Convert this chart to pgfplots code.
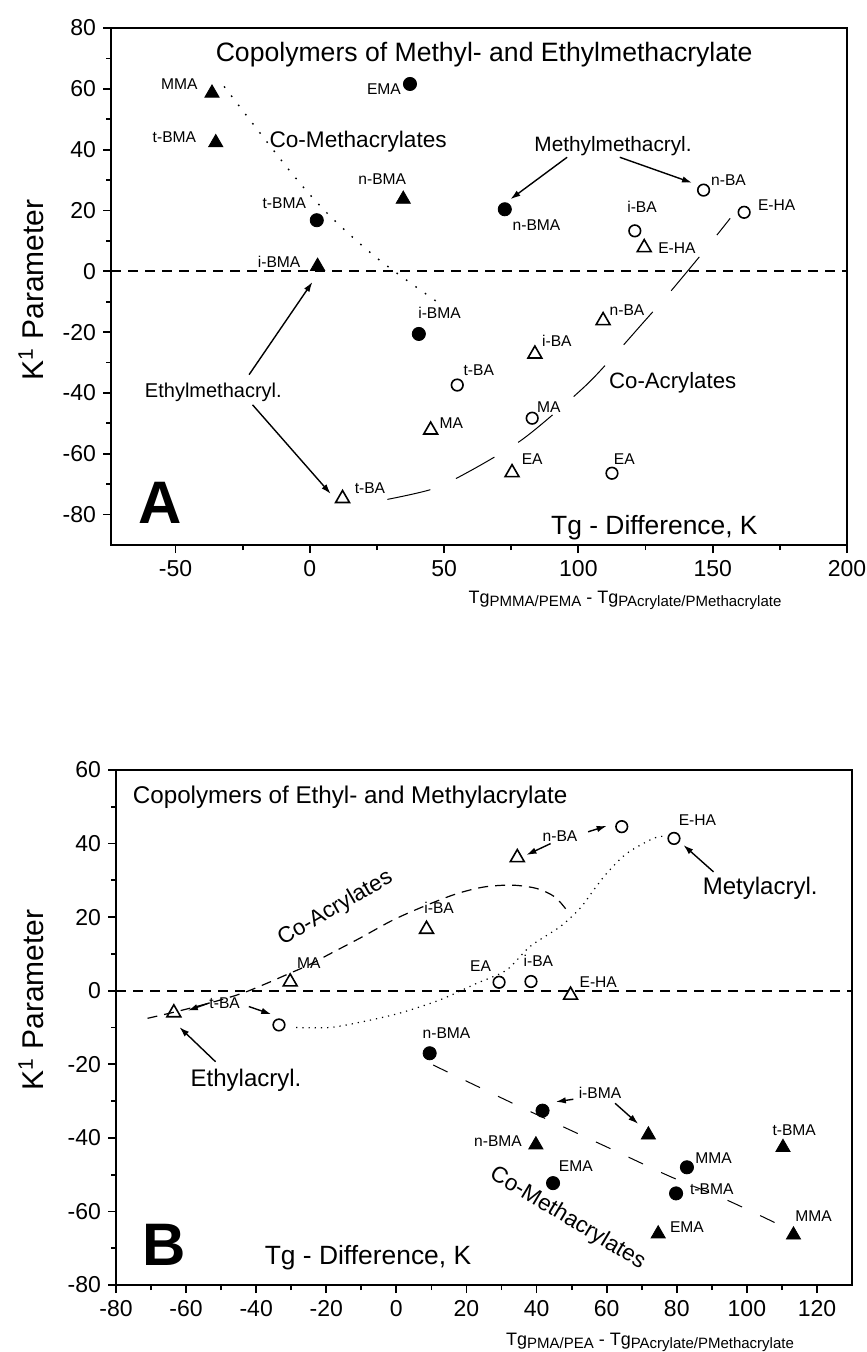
\documentclass[border=0pt]{standalone}
\usepackage{pgfplots}
\pgfplotsset{compat=1.18}
\usepackage{fontspec}
\setmainfont{Liberation Sans}
\usetikzlibrary{arrows.meta}
\newcommand{\fs}[1]{\fontsize{#1}{#1}\selectfont}
\newcommand{\sub}[1]{\raisebox{-1.6pt}{\fs{7.5}#1}}

\pgfplotsset{
  base/.style={
    scale only axis, clip=false,
    axis line style={line width=1.1pt},
    tick align=outside, tick pos=left,
    major tick length=4pt, minor tick length=2.5pt,
    tick style={black, line width=0.9pt},
    minor tick num=1,
    tick label style={font=\fs{11.5}},
    /pgf/number format/assume math mode=true,
    /pgf/number format/1000 sep={},
  },
  zero/.style={black, line width=0.9pt, dash pattern=on 5pt off 3.5pt},
  ftri/.style={only marks, mark=triangle*, mark size=4.1pt, black},
  otri/.style={only marks, mark=triangle, mark size=4pt, black, mark options={line width=0.8pt}},
  fcirc/.style={only marks, mark=*, mark size=3.3pt, black},
  ocirc/.style={only marks, mark=o, mark size=2.9pt, black, mark options={line width=0.8pt}},
}
\tikzset{
  lab/.style={font=\fs{7.8}},
  arr/.style={-{Latex[length=5pt,width=3.2pt]}, line width=0.7pt},
}

\begin{document}
\begin{tikzpicture}
\useasboundingbox (0pt,0pt) rectangle (433pt,-676pt);

% ---------------- Panel A ----------------
\begin{axis}[base, at={(55.5pt,-272.5pt)}, anchor=south west,
  width=368pt, height=258.5pt,
  xmin=-74, xmax=200, ymin=-90, ymax=80,
  xtick={-50,0,...,200}, ytick={-80,-60,...,80}]

\addplot[zero] coordinates {(-74,0) (200,0)};

% Co-Methacrylates dotted guide
\addplot[black, line width=0.7pt, dash pattern=on 0.8pt off 5pt, smooth]
  coordinates {(-31.9,60.8) (-7.7,33.3) (6.6,19) (25.2,4.2) (47.5,-10.1)};
% Co-Acrylates guide
\addplot[black, line width=0.5pt, dash pattern=on 22pt off 14pt, smooth]
  coordinates {(28.9,-75) (46,-71.5) (60,-65.5) (78,-56) (92,-46) (104,-36.5)
               (114,-27) (124,-17) (133,-8) (146,5.8) (156.5,17.4)};

\addplot[ftri] coordinates {(-36.4,58.6) (-35,42.3) (34.8,23.7) (2.9,1.65)};
\addplot[fcirc] coordinates {(37.3,61.6) (2.6,16.8) (40.6,-20.6) (72.6,20.4)};
\addplot[otri] coordinates {(124.5,7.8) (109.2,-16.2) (83.8,-27.2) (45,-52.2) (75.3,-66.2) (12.2,-74.7)};
\addplot[ocirc] coordinates {(146.6,26.7) (161.7,19.4) (121,13.3) (54.9,-37.4) (82.8,-48.3) (112.5,-66.4)};

\node[lab] at (axis cs:-48.6,61.4) {MMA};
\node[lab] at (axis cs:-50.4,44.1) {t-BMA};
\node[lab] at (axis cs:27.6,60) {EMA};
\node[lab] at (axis cs:27,30.3) {n-BMA};
\node[lab] at (axis cs:-9.5,22.5) {t-BMA};
\node[lab] at (axis cs:-11.4,3.1) {i-BMA};
\node[lab] at (axis cs:48.3,-13.8) {i-BMA};
\node[lab] at (axis cs:84.4,15.2) {n-BMA};
\node[lab] at (axis cs:155.9,30) {n-BA};
\node[lab] at (axis cs:173.8,21.6) {E-HA};
\node[lab] at (axis cs:123.7,21.2) {i-BA};
\node[lab] at (axis cs:136.7,7.5) {E-HA};
\node[lab] at (axis cs:118.1,-12.9) {n-BA};
\node[lab] at (axis cs:92,-23) {i-BA};
\node[lab] at (axis cs:62.9,-32.4) {t-BA};
\node[lab] at (axis cs:52.7,-50) {MA};
\node[lab] at (axis cs:89,-44.6) {MA};
\node[lab] at (axis cs:82.8,-61.8) {EA};
\node[lab] at (axis cs:117.1,-61.8) {EA};
\node[lab] at (axis cs:22.4,-71.4) {t-BA};

\node[font=\fs{13.3}] at (axis cs:64.9,71.3) {Copolymers of Methyl- and Ethylmethacrylate};
\node[font=\fs{11.3}] at (axis cs:18,42.7) {Co-Methacrylates};
\node[font=\fs{10.4}] at (axis cs:112.9,41.3) {Methylmethacryl.};
\node[font=\fs{10}] at (axis cs:-35.9,-39.8) {Ethylmethacryl.};
\node[font=\fs{11.1}] at (axis cs:135.1,-36.5) {Co-Acrylates};
\node[font=\fs{13.2}] at (axis cs:128.3,-84.4) {Tg - Difference, K};
\node[font=\fs{30}\bfseries] at (axis cs:-55.6,-76.1) {A};

\draw[arr] (axis cs:95.8,37.5) -- (axis cs:74.7,23.7);
\draw[arr] (axis cs:115.4,37.5) -- (axis cs:142.3,29.1);
\draw[arr] (axis cs:-22.6,-34) -- (axis cs:1,-3.5);
\draw[arr] (axis cs:-21.3,-43.9) -- (axis cs:7.8,-73.2);
\end{axis}

\node[rotate=90, font=\fs{15}] at (15.5pt,-145pt) {K\textsuperscript{1} Parameter};
\node[font=\fs{9}] at (312.5pt,-300pt) {Tg\sub{PMMA/PEMA} - Tg\sub{PAcrylate/PMethacrylate}};

% ---------------- Panel B ----------------
\begin{axis}[base, at={(58pt,-642.5pt)}, anchor=south west,
  width=368pt, height=257.5pt,
  xmin=-80, xmax=130, ymin=-80, ymax=60,
  xtick={-80,-60,...,120}, ytick={-80,-60,...,60}]

\addplot[zero] coordinates {(-80,0) (130,0)};

% Co-Acrylates dashed guide
\addplot[black, line width=0.6pt, dash pattern=on 5pt off 3.5pt, smooth]
  coordinates {(-71,-7.5) (-62,-5.5) (-52,-3) (-44,-0.7) (-37,2) (-31,4.5) (-25,7)
               (-18.6,10.2) (-10,14.5) (-1,19.2) (8,23) (17,26.3) (25,28.2) (33,28.7)
               (40,27.8) (45.2,25.5) (48.6,21.9)};
% dotted guide
\addplot[black, line width=0.6pt, dash pattern=on 0.6pt off 2.5pt, smooth]
  coordinates {(-28.6,-10) (-19,-10) (-10,-8.5) (0.9,-6.1) (12.4,-2.5) (22.9,2)
               (31.4,5.6) (38.1,12) (46.7,17.4) (52.4,22.4) (56,27) (60,31.9)
               (65.7,37.3) (73.3,41.4) (76.5,42)};
% Co-Methacrylates guide
\addplot[black, line width=0.5pt, dash pattern=on 8pt off 10pt, smooth]
  coordinates {(10.5,-20.2) (34.3,-31.1) (61.9,-43.3) (78.1,-50.5) (94.3,-56.9) (111.4,-64.6)};

\addplot[otri] coordinates {(-30.3,2.4) (8.6,16.7) (34.5,36.2) (49.7,-1.2) (-63.5,-6)};
\addplot[ocirc] coordinates {(29.3,2.3) (38.4,2.5) (64.3,44.6) (79.2,41.4) (-33.5,-9.3)};
\addplot[fcirc] coordinates {(9.5,-17) (41.7,-32.6) (44.7,-52.3) (82.9,-48) (79.8,-55.1)};
\addplot[ftri] coordinates {(71.9,-39.2) (39.8,-41.9) (110.3,-42.6) (74.7,-66.1) (113.3,-66.4)};

\node[font=\fs{12.1}, anchor=west, inner sep=0pt] at (axis cs:-75.3,52.7) {Copolymers of Ethyl- and Methylacrylate};
\node[font=\fs{11.2}, rotate=30] at (axis cs:-17.4,22.4) {Co-Acrylates};
\node[font=\fs{11.3}, rotate=-31, inner sep=0pt] at (axis cs:48.8,-61.9) {Co-Methacrylates};
\node[font=\fs{12}] at (axis cs:103.8,27.8) {Metylacryl.};
\node[font=\fs{12}] at (axis cs:-42.9,-24.3) {Ethylacryl.};
\node[font=\fs{13.2}] at (axis cs:-8.1,-72.7) {Tg - Difference, K};
\node[font=\fs{30}\bfseries] at (axis cs:-66.2,-69.1) {B};

\node[lab] at (axis cs:-25,7.4) {MA};
\node[lab] at (axis cs:12.2,22.6) {i-BA};
\node[lab] at (axis cs:24,6.8) {EA};
\node[lab] at (axis cs:46.7,42.1) {n-BA};
\node[lab] at (axis cs:85.9,46.4) {E-HA};
\node[lab] at (axis cs:40.5,8.1) {i-BA};
\node[lab] at (axis cs:57.6,2.2) {E-HA};
\node[lab] at (axis cs:-49,-3.3) {t-BA};
\node[lab] at (axis cs:14.3,-11.6) {n-BMA};
\node[lab] at (axis cs:29,-40.8) {n-BMA};
\node[lab] at (axis cs:58.1,-27.7) {i-BMA};
\node[lab] at (axis cs:51.2,-47.6) {EMA};
\node[lab] at (axis cs:90.5,-45.5) {MMA};
\node[lab] at (axis cs:90,-54) {t-BMA};
\node[lab] at (axis cs:113.5,-37.9) {t-BMA};
\node[lab] at (axis cs:82.9,-64.3) {EMA};
\node[lab] at (axis cs:119,-61.4) {MMA};

\draw[arr] (axis cs:44,40) -- (axis cs:37.1,36.9);
\draw[arr] (axis cs:54.7,43.2) -- (axis cs:60,44.8);
\draw[arr] (axis cs:90.5,32.3) -- (axis cs:81.9,39.6);
\draw[arr] (axis cs:-53.3,-3.3) -- (axis cs:-59.5,-5.4);
\draw[arr] (axis cs:-42.1,-4.3) -- (axis cs:-35.7,-6.4);
\draw[arr] (axis cs:-51.6,-19.3) -- (axis cs:-61.9,-9.9);
\draw[arr] (axis cs:50.5,-29.5) -- (axis cs:45.5,-30.2);
\draw[arr] (axis cs:62.4,-30.6) -- (axis cs:69,-36.2);
\end{axis}

\node[rotate=90, font=\fs{15}] at (15.5pt,-500pt) {K\textsuperscript{1} Parameter};
\node[font=\fs{9}] at (325pt,-671pt) {Tg\sub{PMA/PEA} - Tg\sub{PAcrylate/PMethacrylate}};
\end{tikzpicture}
\end{document}
